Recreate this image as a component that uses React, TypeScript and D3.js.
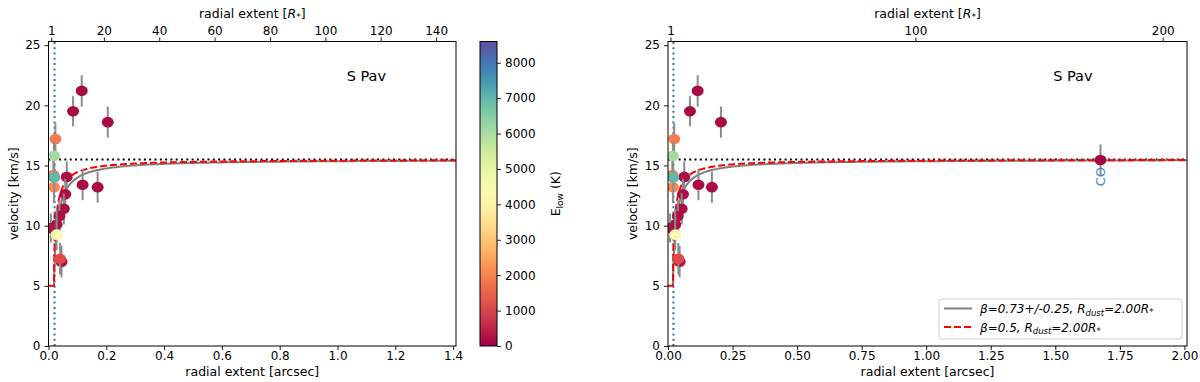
import React, { useRef, useEffect } from "react";
import * as d3 from "d3";

// lines measured per panel: radial extent [arcsec], velocity [km/s], error [km/s], E_low [K]
const lineX = [0.085, 0.115, 0.205, 0.118, 0.170, 0.063, 0.058, 0.053, 0.038, 0.028, 0.008, 0.045, 0.040, 0.028, 0.024, 0.017, 0.019, 0.020, 0.019];
const lineV = [19.5, 21.2, 18.6, 13.4, 13.2, 14.05, 12.6, 11.4, 10.8, 10.1, 9.8, 7.0, 7.25, 9.25, 17.2, 14.2, 13.2, 14.0, 15.8];
const lineErr = [1.25, 1.3, 1.3, 1.3, 1.3, 1.3, 1.3, 1.3, 1.3, 1.3, 1.2, 1.3, 1.3, 1.3, 1.3, 1.3, 1.3, 1.2, 1.2];
const lineE = [150, 150, 150, 150, 150, 200, 200, 200, 200, 250, 250, 250, 1100, 4400, 1900, 1900, 2100, 7000, 6100];

// CO line (only inside right panel range)
const coX = [1.675];
const coV = [15.45];
const coErr = [1.3];
const coE = [100];

// model parameters
const vStart = 5;
const vTerminal = 15.5;
const rStarArcsec = 0.00958;
const rDust = 2.0; // in R*
const betaFit = 0.73;
const betaRef = 0.5;
const blueLineX = 0.021;

const yTicks = [0, 5, 10, 15, 20, 25];
const leftXTicks = [0, 0.2, 0.4, 0.6, 0.8, 1.0, 1.2, 1.4];
const rightXTicks = [0, 0.25, 0.5, 0.75, 1.0, 1.25, 1.5, 1.75, 2.0];
const leftRTicks = [1, 20, 40, 60, 80, 100, 120, 140];
const rightRTicks = [1, 100, 200];
const cbarTicks = [0, 1000, 2000, 3000, 4000, 5000, 6000, 7000, 8000];

const FONT = "DejaVu Sans, Liberation Sans, sans-serif";
const W = 1200, H = 382;
const TOP = 41.5, BOTTOM = 346;

function betaLaw(x, beta) {
  const rd = rDust * rStarArcsec;
  if (x < rd) return vStart;
  return vStart + (vTerminal - vStart) * Math.pow(1 - rd / x, beta);
}

function drawPanel(svg, cfg, color) {
  const x = d3.scaleLinear().domain([0, cfg.xMax]).range([cfg.left, cfg.right]);
  const y = d3.scaleLinear().domain([0, 25.3]).range([BOTTOM, TOP]);
  const xr = d3.scaleLinear().domain([0, cfg.xMax / rStarArcsec]).range([cfg.left, cfg.right]);
  const g = svg.append("g");

  const styleAxis = (sel) => {
    sel.selectAll(".domain").remove();
    sel.selectAll("line").attr("stroke", "#000").attr("stroke-width", 0.9);
    sel.selectAll("text").attr("font-family", FONT).attr("font-size", 12).attr("fill", "#000");
  };

  g.append("g").attr("transform", `translate(0,${BOTTOM})`)
    .call(d3.axisBottom(x).tickValues(cfg.xTicks).tickFormat(d3.format(cfg.xFmt)).tickSize(4).tickPadding(1.5))
    .call(styleAxis);
  g.append("g").attr("transform", `translate(${cfg.left},0)`)
    .call(d3.axisLeft(y).tickValues(yTicks).tickFormat(d3.format("d")).tickSize(4).tickPadding(4))
    .call(styleAxis);
  g.append("g").attr("transform", `translate(0,${TOP})`)
    .call(d3.axisTop(xr).tickValues(cfg.rTicks).tickFormat(d3.format("d")).tickSize(4).tickPadding(3))
    .call(styleAxis);

  const clip = g.append("clipPath").attr("id", "clip" + cfg.id);
  clip.append("rect").attr("x", cfg.left).attr("y", TOP).attr("width", cfg.right - cfg.left).attr("height", BOTTOM - TOP);
  const plot = g.append("g").attr("clip-path", `url(#clip${cfg.id})`);

  // horizontal terminal velocity
  plot.append("line")
    .attr("x1", x(0)).attr("x2", x(cfg.xMax)).attr("y1", y(vTerminal)).attr("y2", y(vTerminal))
    .attr("stroke", "#000").attr("stroke-width", 2).attr("stroke-dasharray", "2,3.3");

  // dust radius
  plot.append("line")
    .attr("x1", x(blueLineX)).attr("x2", x(blueLineX)).attr("y1", BOTTOM).attr("y2", TOP)
    .attr("stroke", "#1f77b4").attr("stroke-width", 2).attr("stroke-dasharray", "2,3.3");

  const xs = d3.range(0, 0.05, 0.0002).concat(d3.range(0.05, cfg.xMax + 0.01, 0.005));
  const line = d3.line().x(d => x(d[0])).y(d => y(d[1]));
  const rd = rDust * rStarArcsec;
  plot.append("path")
    .attr("d", line(xs.filter(v => v >= rd).map(v => [v, betaLaw(v, betaFit)])))
    .attr("fill", "none").attr("stroke", "#808080").attr("stroke-width", 2);
  plot.append("path")
    .attr("d", line(xs.map(v => [v, betaLaw(v, betaRef)]).concat([[rd, vStart]]).sort((a, b) => a[0] - b[0])))
    .attr("fill", "none").attr("stroke", "#ff0000").attr("stroke-width", 2).attr("stroke-dasharray", "7,3");

  const pts = lineX.map((v, i) => ({ x: v, v: lineV[i], e: lineErr[i], E: lineE[i] }));
  if (cfg.co) coX.forEach((v, i) => pts.push({ x: v, v: coV[i], e: coErr[i], E: coE[i] }));

  pts.forEach(p => {
    if (p.x > cfg.xMax) return;
    plot.append("line")
      .attr("x1", x(p.x)).attr("x2", x(p.x)).attr("y1", y(p.v - p.e)).attr("y2", y(p.v + p.e))
      .attr("stroke", "#8c8c8c").attr("stroke-width", 2);
    plot.append("ellipse")
      .attr("cx", x(p.x)).attr("cy", y(p.v)).attr("rx", 6).attr("ry", 5.3)
      .attr("fill", color(p.E));
  });

  if (cfg.co) {
    g.append("text")
      .attr("transform", `translate(${x(coX[0]) + 4.5},${y(coV[0]) + 7}) rotate(-90)`)
      .attr("text-anchor", "end").attr("font-family", FONT).attr("font-size", 13)
      .attr("fill", "#4a88c2").text("CO");
  }

  // frame
  g.append("rect").attr("x", cfg.left).attr("y", TOP).attr("width", cfg.right - cfg.left).attr("height", BOTTOM - TOP)
    .attr("fill", "none").attr("stroke", "#000").attr("stroke-width", 1);

  g.append("text").attr("x", cfg.left + (cfg.right - cfg.left) * 0.78).attr("y", 81)
    .attr("text-anchor", "middle").attr("font-family", FONT).attr("font-size", 14.5).text("S Pav");

  const cx = (cfg.left + cfg.right) / 2;
  g.append("text").attr("x", cx).attr("y", 376).attr("text-anchor", "middle")
    .attr("font-family", FONT).attr("font-size", 12.5).text("radial extent [arcsec]");

  const top = g.append("text").attr("x", cx).attr("y", 18).attr("text-anchor", "middle")
    .attr("font-family", FONT).attr("font-size", 12.5);
  top.append("tspan").text("radial extent [");
  top.append("tspan").attr("font-style", "italic").text("R");
  top.append("tspan").attr("font-size", 9).attr("dy", 2).text("*");
  top.append("tspan").attr("dy", -2).text("]");

  g.append("text").attr("transform", `translate(${cfg.left - 31},${(TOP + BOTTOM) / 2}) rotate(-90)`)
    .attr("text-anchor", "middle").attr("font-family", FONT).attr("font-size", 12.5).text("velocity [km/s]");
}

function App() {
  const svgRef = useRef(null);

  useEffect(() => {
    const svg = d3.select(svgRef.current);
    svg.selectAll("*").remove();

    const eMax = 8600;
    const color = (e) => d3.interpolateSpectral(Math.max(0, Math.min(1, e / eMax)));

    drawPanel(svg, { id: "l", left: 48.5, right: 456, xMax: 1.41, xTicks: leftXTicks, xFmt: ".1f", rTicks: leftRTicks, co: false }, color);
    drawPanel(svg, { id: "r", left: 668, right: 1187, xMax: 2.01, xTicks: rightXTicks, xFmt: ".2f", rTicks: rightRTicks, co: true }, color);

    // colorbar
    const cbL = 480, cbR = 497;
    const cy = d3.scaleLinear().domain([0, eMax]).range([BOTTOM, TOP]);
    const grad = svg.append("defs").append("linearGradient").attr("id", "cbgrad")
      .attr("x1", 0).attr("x2", 0).attr("y1", 1).attr("y2", 0);
    d3.range(0, 1.0001, 0.05).forEach(t => {
      grad.append("stop").attr("offset", t).attr("stop-color", d3.interpolateSpectral(t));
    });
    svg.append("rect").attr("x", cbL).attr("y", TOP).attr("width", cbR - cbL).attr("height", BOTTOM - TOP)
      .attr("fill", "url(#cbgrad)").attr("stroke", "#000").attr("stroke-width", 1);
    svg.append("g").attr("transform", `translate(${cbR},0)`)
      .call(d3.axisRight(cy).tickValues(cbarTicks).tickFormat(d3.format("d")).tickSize(4).tickPadding(4))
      .call(sel => {
        sel.selectAll(".domain").remove();
        sel.selectAll("line").attr("stroke", "#000").attr("stroke-width", 0.9);
        sel.selectAll("text").attr("font-family", FONT).attr("font-size", 12).attr("fill", "#000");
      });
    const cbl = svg.append("text").attr("transform", `translate(560,${(TOP + BOTTOM) / 2}) rotate(-90)`)
      .attr("text-anchor", "middle").attr("font-family", FONT).attr("font-size", 12.5);
    cbl.append("tspan").text("E");
    cbl.append("tspan").attr("font-size", 9).attr("dy", 2.5).text("low");
    cbl.append("tspan").attr("dy", -2.5).text(" (K)");

    // legend
    const lg = svg.append("g");
    lg.append("rect").attr("x", 939).attr("y", 299).attr("width", 243).attr("height", 40).attr("rx", 3)
      .attr("fill", "#fff").attr("fill-opacity", 0.8).attr("stroke", "#cccccc");
    const entries = [
      { color: "#808080", dash: null, beta: "0.73+/-0.25" },
      { color: "#ff0000", dash: "7,3", beta: "0.5" },
    ];
    entries.forEach((d, i) => {
      const yy = 308.5 + i * 18.5;
      lg.append("line").attr("x1", 944).attr("x2", 972).attr("y1", yy).attr("y2", yy)
        .attr("stroke", d.color).attr("stroke-width", 2).attr("stroke-dasharray", d.dash);
      const t = lg.append("text").attr("x", 980).attr("y", yy + 4.5)
        .attr("font-family", FONT).attr("font-size", 12).attr("font-style", "italic");
      t.append("tspan").text(`β=${d.beta}, R`);
      t.append("tspan").attr("font-size", 8.5).attr("dy", 2.5).text("dust");
      t.append("tspan").attr("dy", -2.5).text(`=${rDust.toFixed(2)}R`);
      t.append("tspan").attr("font-size", 8.5).attr("dy", 2).text("*");
    });
  }, []);

  return (
    <svg ref={svgRef} width={W} height={H} style={{ position: "absolute", left: 0, top: 0, background: "#fff" }} />
  );
}

export default App;
